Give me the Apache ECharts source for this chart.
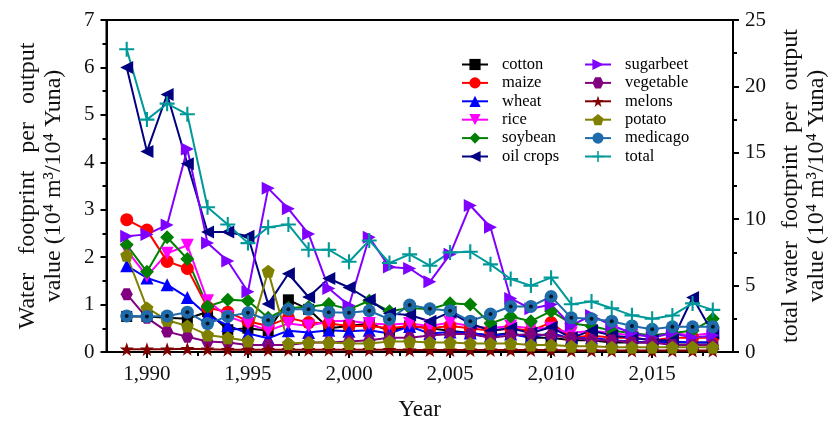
<!DOCTYPE html>
<html><head><meta charset="utf-8">
<script src="https://cdn.jsdelivr.net/npm/echarts@6/dist/echarts.min.js"></script>
<style>html,body{margin:0;padding:0;background:#fff}#c{width:838px;height:426px}</style>
</head><body><div id="c"></div>
<script>
const years = [1989,1990,1991,1992,1993,1994,1995,1996,1997,1998,1999,2000,2001,2002,2003,2004,2005,2006,2007,2008,2009,2010,2011,2012,2013,2014,2015,2016,2017,2018];
const cotton = [0.75,0.75,0.72,0.7,0.85,0.47,0.5,0.45,1.1,0.9,0.5,0.55,0.6,0.45,0.55,0.5,0.45,0.4,0.35,0.4,0.3,0.3,0.25,0.25,0.2,0.2,0.2,0.2,0.2,0.2];
const maize = [2.79,2.57,1.91,1.76,0.94,0.84,0.65,0.55,0.72,0.62,0.6,0.55,0.55,0.5,0.55,0.5,0.55,0.5,0.45,0.5,0.45,0.62,0.3,0.35,0.3,0.3,0.25,0.3,0.3,0.3];
const wheat = [1.82,1.56,1.42,1.15,0.77,0.56,0.39,0.29,0.45,0.41,0.46,0.44,0.46,0.39,0.54,0.39,0.42,0.4,0.35,0.38,0.3,0.4,0.28,0.3,0.25,0.22,0.2,0.22,0.2,0.2];
const rice = [2.15,1.6,2.08,2.25,1.08,0.75,0.6,0.45,0.6,0.55,0.65,0.66,0.6,0.58,0.6,0.55,0.62,0.55,0.5,0.55,0.5,0.5,0.4,0.45,0.4,0.35,0.35,0.4,0.35,0.4];
const soybean = [2.26,1.69,2.42,1.96,0.96,1.1,1.08,0.72,0.93,0.95,1.01,0.9,1.08,0.86,0.93,0.9,1.03,1.0,0.6,0.75,0.65,0.86,0.6,0.55,0.45,0.4,0.35,0.4,0.45,0.7];
const oilCrops = [6.0,4.23,5.43,3.97,2.53,2.53,2.44,1.01,1.65,1.16,1.55,1.36,1.10,0.81,0.78,0.65,0.84,0.6,0.45,0.5,0.4,0.52,0.3,0.45,0.35,0.3,0.25,0.25,1.15,0.4];
const sugarbeet = [2.44,2.48,2.68,4.28,2.3,1.92,1.27,3.45,3.02,2.49,1.34,0.98,2.42,1.79,1.76,1.48,2.06,3.09,2.63,1.13,0.91,1.0,0.56,0.77,0.56,0.4,0.3,0.4,0.3,0.35];
const vegetable = [1.22,0.72,0.43,0.32,0.22,0.2,0.15,0.15,0.15,0.2,0.2,0.22,0.25,0.3,0.3,0.35,0.38,0.38,0.3,0.35,0.38,0.35,0.3,0.25,0.25,0.2,0.2,0.15,0.15,0.15];
const melons = [0.06,0.06,0.06,0.07,0.06,0.05,0.05,0.05,0.05,0.05,0.05,0.05,0.05,0.05,0.04,0.04,0.04,0.04,0.04,0.04,0.04,0.04,0.03,0.03,0.03,0.03,0.03,0.03,0.03,0.03];
const potato = [2.04,0.93,0.67,0.55,0.36,0.3,0.23,1.70,0.18,0.2,0.2,0.18,0.18,0.22,0.22,0.2,0.2,0.18,0.18,0.18,0.15,0.15,0.12,0.12,0.1,0.1,0.1,0.1,0.1,0.1];
const medicago = [0.76,0.75,0.76,0.84,0.6,0.75,0.83,0.67,0.9,0.9,0.84,0.83,0.87,0.69,0.99,0.91,0.87,0.65,0.8,0.96,0.96,1.17,0.72,0.70,0.65,0.55,0.48,0.53,0.53,0.53];
const total = [22.8,17.5,18.7,17.9,10.9,9.6,8.2,9.4,9.6,7.7,7.7,6.8,8.4,6.7,7.35,6.5,7.5,7.55,6.6,5.5,5.0,5.6,3.6,3.8,3.3,2.76,2.5,2.75,3.66,3.17];
const xMajorTicks = [1990,1995,2000,2005,2010,2015];
const xMinorTicks = [1992.5,1997.5,2002.5,2007.5,2012.5,2017.5];

const FONT = 'Liberation Serif';
const sym = {
  triDown: 'path://M0,0L2,0L1,2Z',
  triLeft: 'path://M2,0L2,2L0,1Z',
  triRight: 'path://M0,0L2,1L0,2Z',
  hexagon: 'path://M0.5,0L1.5,0L2,1L1.5,2L0.5,2L0,1Z',
  star: 'path://M1,0L1.235,0.676L1.951,0.691L1.380,1.124L1.588,1.809L1,1.4L0.412,1.809L0.620,1.124L0.049,0.691L0.765,0.676Z',
  pentagon: 'path://M1,0L2,0.73L1.62,1.9L0.38,1.9L0,0.73Z',
  plus: 'path://M4.3,0H5.7V4.3H10V5.7H5.7V10H4.3V5.7H0V4.3H4.3Z'
};
const pairs = arr => years.map((y,i)=>[y, arr[i]]);
function mk(name, data, color, symbol, size, yIdx){
  return {name, type:'line', data:pairs(data), yAxisIndex:yIdx||0, symbol, symbolSize:size,
    lineStyle:{color, width:2}, itemStyle:{color}, color, showSymbol:true, animation:false, z:2};
}
const series = [
  mk('cotton', cotton, '#000000', 'rect', 11),
  mk('maize', maize, '#FF0000', 'circle', 13),
  mk('wheat', wheat, '#0000FF', 'triangle', 13),
  mk('rice', rice, '#FF00FF', sym.triDown, 13),
  mk('soybean', soybean, '#008000', 'diamond', 14),
  mk('oil crops', oilCrops, '#000080', sym.triLeft, 13),
  mk('sugarbeet', sugarbeet, '#8000FF', sym.triRight, 13),
  mk('vegetable', vegetable, '#800080', sym.hexagon, 12),
  mk('melons', melons, '#800000', sym.star, 14),
  mk('potato', potato, '#808000', sym.pentagon, 13),
  mk('medicago', medicago, '#1F6BAA', 'circle', 13),
  mk('total', total, '#009999', sym.plus, 15, 1),
  {name:'medicago-dot', type:'scatter', data:pairs(medicago), symbol:'circle', symbolSize:4,
   itemStyle:{color:'#000'}, z:3, animation:false, silent:true}
];
const legendCommon = {orient:'vertical', itemWidth:26, itemHeight:14, itemGap:1.4, top:56, padding:0,
  textStyle:{fontFamily:FONT, fontSize:16.5, color:'#000', lineHeight:16, padding:[0,0,0,9]}, selectedMode:false};

const option = {
  backgroundColor:'#fff',
  animation:false,
  grid:{left:106.5, right:98, top:20, bottom:67, show:true, borderColor:'#000', borderWidth:2, backgroundColor:'transparent'},
  legend:[
    Object.assign({left:461, data:['cotton','maize','wheat','rice','soybean','oil crops']}, legendCommon),
    Object.assign({left:584, data:['sugarbeet','vegetable','melons','potato','medicago','total']}, legendCommon)
  ],
  xAxis:[
    {type:'value', min:1988, max:2019, position:'bottom',
     axisLine:{show:true, lineStyle:{color:'#000', width:2}},
     axisTick:{show:true, customValues:xMajorTicks, length:6, lineStyle:{color:'#000', width:2}},
     axisLabel:{customValues:xMajorTicks, fontFamily:FONT, fontSize:21, color:'#111', margin:12},
     splitLine:{show:false},
     name:'Year', nameLocation:'middle', nameGap:46, nameTextStyle:{fontFamily:FONT, fontSize:23, color:'#111'}},
    {type:'value', min:1988, max:2019, position:'bottom',
     axisLine:{show:false},
     axisTick:{show:true, customValues:xMinorTicks, length:4, lineStyle:{color:'#000', width:2}},
     axisLabel:{show:false}, splitLine:{show:false}}
  ],
  yAxis:[
    {type:'value', min:0, max:7, interval:1, position:'left',
     axisLine:{show:true, lineStyle:{color:'#000', width:2}},
     axisTick:{show:true, length:6, lineStyle:{color:'#000', width:2}},
     minorTick:{show:true, splitNumber:2, length:4, lineStyle:{color:'#000', width:2}},
     axisLabel:{fontFamily:FONT, fontSize:21, color:'#111', margin:12},
     splitLine:{show:false},
     name:'Water   footprint   per   output\nvalue (10\u2074 m\u00B3/10\u2074 Yuna)', nameLocation:'middle', nameGap:40, nameRotate:90,
     nameTextStyle:{fontFamily:FONT, fontSize:24, color:'#111', lineHeight:26, align:'center'}},
    {type:'value', min:0, max:25, interval:5, position:'right',
     axisLine:{show:true, lineStyle:{color:'#000', width:2}},
     axisTick:{show:true, length:6, lineStyle:{color:'#000', width:2}},
     minorTick:{show:true, splitNumber:2, length:4, lineStyle:{color:'#000', width:2}},
     axisLabel:{fontFamily:FONT, fontSize:21, color:'#111', margin:12},
     splitLine:{show:false},
     name:'total water  footprint  per  output\nvalue (10\u2074 m\u00B3/10\u2074 Yuna)', nameLocation:'middle', nameGap:45, nameRotate:90,
     nameTextStyle:{fontFamily:FONT, fontSize:24, color:'#111', lineHeight:26, align:'center'}}
  ],
  series
};
const chart = echarts.init(document.getElementById('c'), null, {renderer:'canvas'});
chart.setOption(option);
</script></body></html>
